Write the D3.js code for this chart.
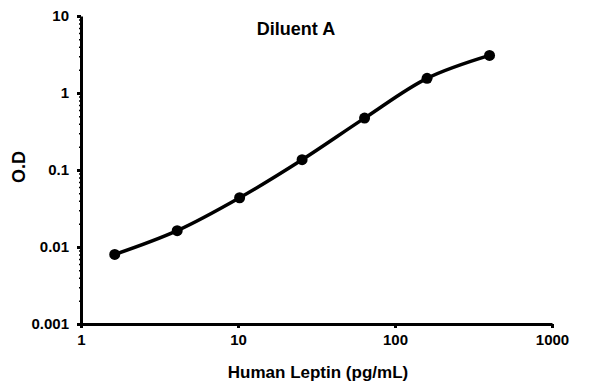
<!DOCTYPE html>
<html>
<head>
<meta charset="utf-8">
<script src="https://cdn.jsdelivr.net/npm/d3@7"></script>
<style>
  body { margin: 0; background: #fff; }
  text { font-family: "Liberation Sans", Arial, sans-serif; font-weight: bold; fill: #000; }
</style>
</head>
<body>
<div id="chart"></div>
<script>
// Data
var concentration = [1.64, 4.1, 10.24, 25.6, 64, 160, 400];
var od = [0.0080, 0.0163, 0.0436, 0.136, 0.472, 1.55, 3.08];
var xTicks = [1, 10, 100, 1000];
var yTicks = [0.001, 0.01, 0.1, 1, 10];

var svgWidth = 596;
var svgHeight = 384;
var margin = { top: 16, right: 44, bottom: 60, left: 81 };
var width = svgWidth - margin.left - margin.right;
var height = svgHeight - margin.top - margin.bottom;

var svg = d3.select("#chart")
  .append("svg")
  .attr("width", svgWidth)
  .attr("height", svgHeight);

var chartGroup = svg.append("g")
  .attr("transform", `translate(${margin.left}, ${margin.top})`);

var xScale = d3.scaleLog().domain([1, 1000]).range([0, width]);
var yScale = d3.scaleLog().domain([0.001, 10]).range([height, 0]);

// minor ticks
var xMinor = [];
var yMinor = [];
xTicks.slice(0, -1).forEach(function(t) {
  for (var k = 2; k < 10; k++) xMinor.push(t * k);
});
yTicks.slice(0, -1).forEach(function(t) {
  for (var k = 2; k < 10; k++) yMinor.push(t * k);
});

chartGroup.append("g")
  .attr("transform", `translate(0, ${height})`)
  .call(d3.axisBottom(xScale).tickValues(xMinor).tickSize(2).tickFormat(""))
  .call(g => g.select(".domain").remove())
  .selectAll("line").attr("stroke-width", 1.5);

chartGroup.append("g")
  .call(d3.axisLeft(yScale).tickValues(yMinor).tickSize(2).tickFormat(""))
  .call(g => g.select(".domain").remove())
  .selectAll("line").attr("stroke-width", 1.5);

// major axes
var bottomAxis = d3.axisBottom(xScale)
  .tickValues(xTicks)
  .tickSize(4)
  .tickSizeOuter(0)
  .tickPadding(6)
  .tickFormat(d3.format("d"));

var leftAxis = d3.axisLeft(yScale)
  .tickValues(yTicks)
  .tickSize(4)
  .tickSizeOuter(0)
  .tickPadding(8)
  .tickFormat(d => d < 1 ? d3.format(".3~f")(d) : d3.format("d")(d));

var xAxisG = chartGroup.append("g")
  .attr("transform", `translate(0, ${height})`)
  .call(bottomAxis);

var yAxisG = chartGroup.append("g")
  .call(leftAxis);

[xAxisG, yAxisG].forEach(function(g) {
  g.select(".domain").attr("stroke-width", 3);
  g.selectAll(".tick line").attr("stroke-width", 3);
  g.selectAll(".tick text")
    .style("font-size", "15px")
    .style("font-family", "'Liberation Sans', Arial, sans-serif")
    .style("font-weight", "bold");
});

// line
var points = concentration.map((c, i) => [xScale(c), yScale(od[i])]);

chartGroup.append("path")
  .datum(points)
  .attr("fill", "none")
  .attr("stroke", "#000")
  .attr("stroke-width", 3.5)
  .attr("d", d3.line().curve(d3.curveCatmullRom.alpha(0.5)));

chartGroup.selectAll("circle")
  .data(points)
  .enter()
  .append("circle")
  .attr("cx", d => d[0])
  .attr("cy", d => d[1])
  .attr("r", 5.5)
  .attr("fill", "#000");

// titles
svg.append("text")
  .attr("x", 296)
  .attr("y", 35)
  .attr("text-anchor", "middle")
  .style("font-size", "18px")
  .text("Diluent A");

svg.append("text")
  .attr("transform", "translate(25, 167) rotate(-90)")
  .attr("text-anchor", "middle")
  .style("font-size", "18px")
  .text("O.D");

svg.append("text")
  .attr("x", 318)
  .attr("y", 378)
  .attr("text-anchor", "middle")
  .style("font-size", "17px")
  .text("Human Leptin (pg/mL)");
</script>
</body>
</html>
